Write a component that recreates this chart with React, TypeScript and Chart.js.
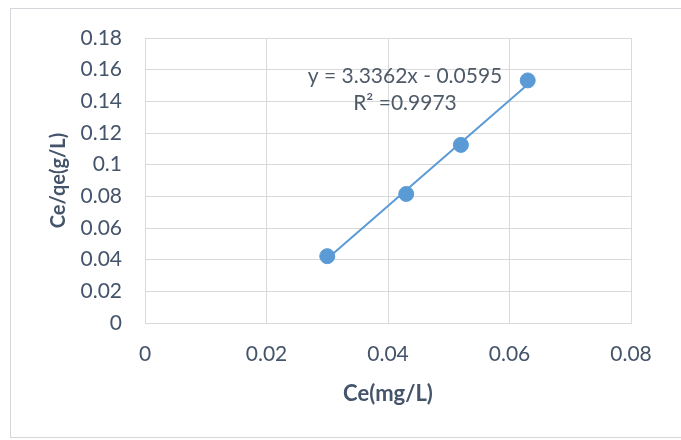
import React, { useEffect, useRef } from 'react';
import { Chart, registerables } from 'chart.js';

Chart.register(...registerables);

// Measured points: Ce (mg/L) against Ce/qe (g/L)
const ceValues = [0.030, 0.043, 0.052, 0.063];
const ceQeValues = [0.0422, 0.0815, 0.1125, 0.1532];

// Linear trendline as reported on the chart
const trendSlope = 3.3362;
const trendIntercept = -0.0595;
const equationText = 'y = 3.3362x - 0.0595';
const r2Text = 'R² =0.9973';

const xTicks = [0, 0.02, 0.04, 0.06, 0.08];
const xTickLabels = ['0', '0.02', '0.04', '0.06', '0.08'];
const yTicks = [0, 0.02, 0.04, 0.06, 0.08, 0.1, 0.12, 0.14, 0.16, 0.18];
const yTickLabels = ['0', '0.02', '0.04', '0.06', '0.08', '0.1', '0.12', '0.14', '0.16', '0.18'];

const xTitle = 'Ce(mg/L)';
const yTitle = 'Ce/qe(g/L)';

const SERIES_COLOR = '#5B9BD5';
const TEXT_COLOR = '#44546A';
const GRID_COLOR = '#D9D9D9';
const FONT_FAMILY = 'Lato, "Open Sans", sans-serif';

const trendLabelPlugin = {
  id: 'trendLabel',
  afterDatasetsDraw(chart: any) {
    const { ctx, chartArea } = chart;
    const cx = chartArea.left + 260;
    ctx.save();
    ctx.font = `21px ${FONT_FAMILY}`;
    ctx.fillStyle = '#4F5A69';
    ctx.textAlign = 'center';
    ctx.textBaseline = 'alphabetic';
    ctx.fillText(equationText, cx, chartArea.top + 45);
    ctx.fillText(r2Text, cx, chartArea.top + 72);
    ctx.restore();
  },
};

export default function App() {
  const canvasRef = useRef<HTMLCanvasElement | null>(null);

  useEffect(() => {
    const canvas = canvasRef.current;
    if (!canvas) return;

    const points = ceValues.map((x, i) => ({ x, y: ceQeValues[i] }));
    const xStart = ceValues[0];
    const xEnd = ceValues[ceValues.length - 1];
    const trend = [
      { x: xStart, y: trendSlope * xStart + trendIntercept },
      { x: xEnd, y: trendSlope * xEnd + trendIntercept },
    ];

    const tickFont = { family: FONT_FAMILY, size: 21 };

    const chart = new Chart(canvas, {
      type: 'scatter',
      data: {
        datasets: [
          {
            label: 'Ce/qe',
            data: points,
            showLine: false,
            pointRadius: 7.5,
            pointHoverRadius: 7.5,
            backgroundColor: SERIES_COLOR,
            borderColor: SERIES_COLOR,
            borderWidth: 1,
          },
          {
            label: 'Linear',
            data: trend,
            showLine: true,
            pointRadius: 0,
            borderColor: SERIES_COLOR,
            borderWidth: 2,
            fill: false,
          },
        ],
      },
      options: {
        responsive: false,
        animation: false,
        devicePixelRatio: 1,
        layout: { padding: { top: 38, right: 50, bottom: 0, left: 0 } },
        plugins: {
          legend: { display: false },
          tooltip: { enabled: false },
        },
        scales: {
          x: {
            type: 'linear',
            min: 0,
            max: 0.08,
            afterBuildTicks: (scale: any) => {
              scale.ticks = xTicks.map((v) => ({ value: v }));
            },
            afterFit: (scale: any) => {
              scale.height = 117;
            },
            ticks: {
              callback: (_v: any, i: number) => xTickLabels[i],
              padding: 19,
              color: TEXT_COLOR,
              font: tickFont,
              maxRotation: 0,
              autoSkip: false,
            },
            grid: { color: GRID_COLOR, drawTicks: false, lineWidth: 1 },
            border: { color: GRID_COLOR },
            title: {
              display: true,
              text: xTitle,
              color: TEXT_COLOR,
              font: { family: FONT_FAMILY, size: 22, weight: 'bold' },
              padding: { top: 0, bottom: 33 },
            },
          },
          y: {
            type: 'linear',
            min: 0,
            max: 0.18,
            afterBuildTicks: (scale: any) => {
              scale.ticks = yTicks.map((v) => ({ value: v }));
            },
            afterFit: (scale: any) => {
              scale.width = 145;
            },
            ticks: {
              callback: (_v: any, i: number) => yTickLabels[i],
              padding: 23,
              color: TEXT_COLOR,
              font: tickFont,
              autoSkip: false,
            },
            grid: { color: GRID_COLOR, drawTicks: false, lineWidth: 1 },
            border: { color: GRID_COLOR },
            title: {
              display: true,
              text: yTitle,
              color: TEXT_COLOR,
              font: { family: FONT_FAMILY, size: 20, weight: 'bold' },
              padding: { top: 47, bottom: 0 },
            },
          },
        },
      },
      plugins: [trendLabelPlugin],
    } as any);

    let alive = true;
    if ((document as any).fonts) {
      Promise.all([
        document.fonts.load(`21px Lato`),
        document.fonts.load(`bold 20px Lato`),
      ])
        .then(() => {
          if (alive) chart.update();
        })
        .catch(() => undefined);
    }

    return () => {
      alive = false;
      chart.destroy();
    };
  }, []);

  return (
    <div>
      <div
        style={{
          position: 'fixed',
          left: 10,
          top: 8,
          width: 671,
          height: 430,
          boxSizing: 'border-box',
          border: '1px solid #D4D7DC',
          borderRight: 'none',
          background: '#FFFFFF',
        }}
      />
      <canvas
        ref={canvasRef}
        width={681}
        height={440}
        style={{ position: 'fixed', left: 0, top: 0, width: 681, height: 440 }}
      />
    </div>
  );
}
